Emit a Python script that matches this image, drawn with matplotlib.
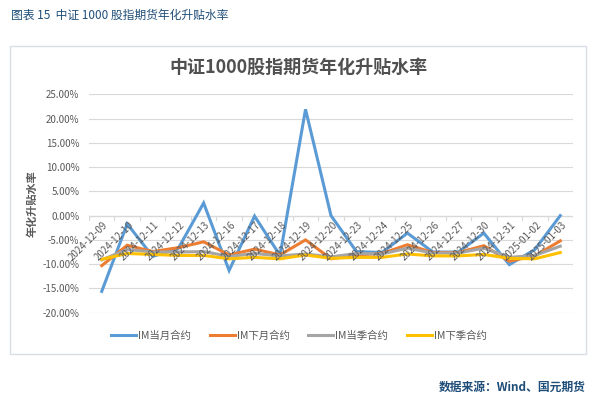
import matplotlib
matplotlib.use("Agg")
import matplotlib.pyplot as plt
from matplotlib.patches import Rectangle
from matplotlib.ticker import FuncFormatter, MultipleLocator

plt.rcParams['font.family'] = ['Noto Sans CJK SC', 'DejaVu Sans']

dates = ["2024-12-09", "2024-12-10", "2024-12-11", "2024-12-12", "2024-12-13",
         "2024-12-16", "2024-12-17", "2024-12-18", "2024-12-19", "2024-12-20",
         "2024-12-23", "2024-12-24", "2024-12-25", "2024-12-26", "2024-12-27",
         "2024-12-30", "2024-12-31", "2025-01-02", "2025-01-03"]
im_cur_month = [-15.6, -1.7, -8.4, -6.8, 2.6, -11.3, -0.1, -8.2, 21.9, 0.0,
                -7.4, -7.6, -3.6, -7.5, -7.5, -3.6, -10.1, -7.0, 0.0]
im_next_month = [-10.3, -6.1, -7.4, -6.6, -5.4, -8.1, -6.9, -8.1, -5.0, -8.9,
                 -8.1, -7.8, -6.0, -7.6, -7.6, -6.2, -9.4, -8.3, -5.2]
im_cur_quarter = [-9.1, -7.0, -7.5, -7.5, -7.4, -8.4, -7.8, -8.3, -7.9, -8.5,
                  -7.8, -7.9, -6.7, -7.7, -7.7, -6.7, -8.6, -8.2, -6.3]
im_next_quarter = [-9.0, -7.8, -8.0, -8.2, -8.2, -8.9, -8.6, -8.9, -8.1, -8.8,
                   -8.6, -8.6, -7.9, -8.3, -8.3, -8.0, -8.8, -8.9, -7.6]
series_names = ["IM当月合约", "IM下月合约", "IM当季合约", "IM下季合约"]
colors = ["#5B9BD5", "#ED7D31", "#A5A5A5", "#FFC000"]

W, H = 595, 395
fig = plt.figure(figsize=(W / 100, H / 100), dpi=100)
fig.patch.set_facecolor("white")

# chart border box
fig.patches.append(Rectangle((10 / W, 1 - 354 / H), 576 / W, (354 - 46) / H,
                             transform=fig.transFigure, fill=False,
                             edgecolor="#D9DEE6", linewidth=1.0))

ax = fig.add_axes([89 / W, 1 - 312.7 / H, (573 - 89) / W, (312.7 - 94.3) / H])
x = list(range(len(dates)))
for vals, name, c in zip([im_cur_month, im_next_month, im_cur_quarter, im_next_quarter],
                         series_names, colors):
    ax.plot(x, vals, color=c, linewidth=2.2, label=name, solid_joinstyle='miter')

ax.set_xlim(-0.5, len(dates) - 0.5)
ax.set_ylim(-20, 25)
ax.yaxis.set_major_locator(MultipleLocator(5))
ax.yaxis.set_major_formatter(FuncFormatter(lambda v, p: f"{v:.2f}%"))
ax.grid(axis='y', color="#D9D9D9", linewidth=0.8)
ax.set_axisbelow(True)
for s in ax.spines.values():
    s.set_visible(False)
ax.tick_params(axis='y', length=0, labelsize=7, labelcolor="#595959", pad=7)

# x axis on zero line
ax.axhline(0, color="#D9D9D9", linewidth=0.9, zorder=1)
ax.set_xticks([])
for i in range(len(dates) + 1):
    ax.plot([i - 0.5, i - 0.5], [0, -0.8], color="#D9D9D9", linewidth=0.8, zorder=1)
for i, d in enumerate(dates):
    ax.text(i + 0.05, -0.9, d, rotation=45, ha='right', va='top',
            rotation_mode='anchor', fontsize=7, color="#595959")

fig.text(32 / W, 1 - 203.5 / H, "年化升贴水率", rotation=90, ha='center', va='center',
         fontsize=8, fontweight='bold', color="#595959")

fig.text(298 / W, 1 - 67 / H, "中证1000股指期货年化升贴水率", ha='center', va='center',
         fontsize=13, fontweight='bold', color="#505050")

fig.text(11 / W, 1 - 15 / H, "图表 15  中证 1000 股指期货年化升贴水率", ha='left', va='center',
         fontsize=8.5, color="#1F4E79")

fig.text(586 / W, 1 - 387 / H, "数据来源：Wind、国元期货", ha='right', va='center',
         fontsize=8.5, color="#1F4E79", fontweight='bold')

leg = fig.legend(loc='center', bbox_to_anchor=(299 / W, 1 - 336 / H), ncol=4,
                 frameon=False, fontsize=7.5, handlelength=2.4, handletextpad=0.2,
                 columnspacing=1.8, labelcolor="#595959")

fig.savefig("out.png", dpi=100, facecolor="white")
